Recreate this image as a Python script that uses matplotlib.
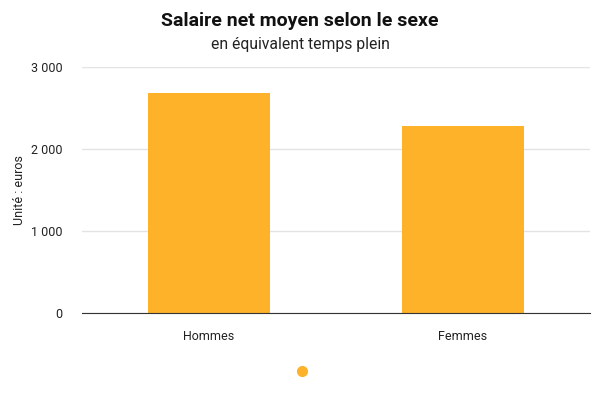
import matplotlib
matplotlib.use("Agg")
import matplotlib.pyplot as plt
from matplotlib.lines import Line2D
from matplotlib.ticker import FuncFormatter

plt.rcParams['font.family'] = ['Roboto', 'DejaVu Sans']

BAR_COLOR = '#fdb22a'

categories = ["Hommes", "Femmes"]
salaires = [2685, 2280]
yticks = [0, 1000, 2000, 3000]


def fmt_thousands(v, pos):
    return "{:,.0f}".format(v).replace(",", " ")


fig = plt.figure(figsize=(6, 4), dpi=100)
ax = fig.add_axes([0.137, 0.2175, 0.846, 0.615])

ax.bar(range(len(categories)), salaires, width=0.48, color=BAR_COLOR, zorder=3)

ax.set_xlim(-0.5, len(categories) - 0.5)
ax.set_ylim(0, 3000)
ax.set_yticks(yticks)
ax.yaxis.set_major_formatter(FuncFormatter(fmt_thousands))
ax.set_xticks(range(len(categories)))
ax.set_xticklabels(categories)

ax.grid(axis='y', color='#e3e3e3', linewidth=1, zorder=0)
for side in ['top', 'right', 'left']:
    ax.spines[side].set_visible(False)
ax.spines['bottom'].set_color('#333333')
ax.spines['bottom'].set_zorder(4)
ax.tick_params(axis='both', length=0, labelsize=9, colors='#222222')
ax.tick_params(axis='y', pad=14)
ax.tick_params(axis='x', pad=12.5)

ax.set_ylabel("Unité : euros", fontsize=9, color='#222222', labelpad=4)

fig.text(0.5, 0.948, "Salaire net moyen selon le sexe", ha='center', va='center',
         fontsize=14, fontweight='bold', color='#111111')
fig.text(0.5, 0.888, "en équivalent temps plein", ha='center', va='center',
         fontsize=11.3, color='#222222')

handle = Line2D([], [], marker='o', linestyle='', color=BAR_COLOR, markersize=7)
fig.legend(handles=[handle], labels=[''], loc='center', bbox_to_anchor=(0.503, 0.07),
           frameon=False, handlelength=1, handletextpad=0)

fig.savefig("out.png", dpi=100)
